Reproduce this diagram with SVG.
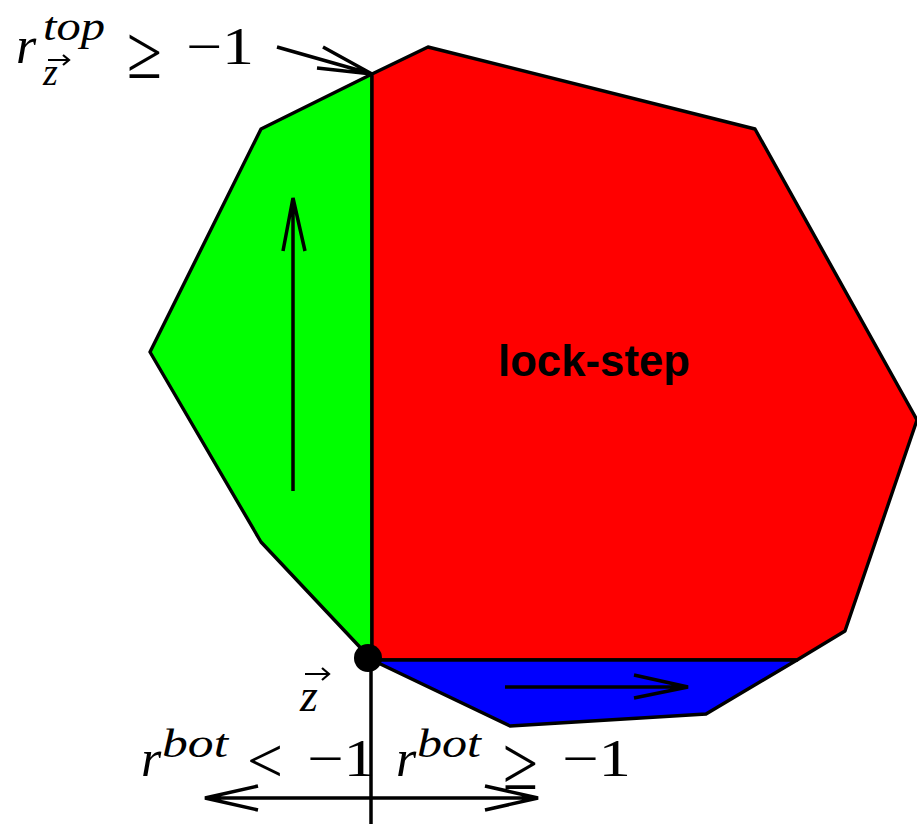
<svg xmlns="http://www.w3.org/2000/svg" width="917" height="824" viewBox="0 0 917 824">
<style>
.reg{stroke:#000;stroke-width:3.4;stroke-linejoin:round}
.ln{stroke:#000;stroke-width:3.5;fill:none;stroke-linecap:butt}
.m{font-family:"Liberation Serif",serif;font-style:italic;fill:#000}
.n{font-family:"Liberation Serif",serif;fill:#000;font-size:52px}
.rel{font-family:"Liberation Serif",serif;fill:#000;font-size:64px}
.ge{font-family:"Liberation Serif",serif;fill:#000;font-size:76px}
.lbl{font-family:"Liberation Sans",Arial,sans-serif;font-weight:bold;font-size:44px;fill:#000}
</style>
<rect width="917" height="824" fill="#fff"/>
<g id="green"><polygon class="reg" fill="#00ff00" points="372,74 261,129 150,352 261,542 372,660"/></g>
<g id="red"><polygon class="reg" fill="#ff0000" points="372,74 428,47 755,129 917,420 845,631 797,660 372,660"/></g>
<g id="blue"><polygon class="reg" fill="#0000ff" points="372,660 797,660 706,714 510,726"/></g>
<g id="dot"><circle cx="368" cy="658" r="14" fill="#000"/></g>
<g id="connectors">
<path class="ln" d="M293,491 V198 M283,251 L293,198 L305,251"/>
<path class="ln" d="M505,687 H688 M634,675 L688,687 L634,698"/>
<path class="ln" d="M205,798 H538 M258,786 L205,798 L258,810 M485,786 L538,798 L485,810"/>
<path class="ln" d="M371,658 V824"/>
<path class="ln" d="M277,47 L372,74 M323,47 L372,74 L317,68"/>
</g>
<g id="label-top">
<text class="m" x="16" y="63" font-size="52">r</text>
<text class="m" x="43" y="40" font-size="40" textLength="62" lengthAdjust="spacingAndGlyphs">top</text>
<text class="m" x="43" y="85" font-size="38">z</text>
<path d="M48,60 H68 M63,55 L69,60 L63,65" stroke="#000" stroke-width="2.2" fill="none"/>
<text class="ge" x="127" y="78" textLength="35" lengthAdjust="spacingAndGlyphs">≥</text>
<text class="n" x="186" y="64" textLength="68" lengthAdjust="spacingAndGlyphs">−1</text>
</g>
<g id="label-z">
<text class="m" x="300" y="711" font-size="46">z</text>
<path d="M305,674 H328 M322,668 L329,674 L322,680" stroke="#000" stroke-width="2.2" fill="none"/>
</g>
<g id="label-bot-left">
<text class="m" x="141" y="776" font-size="52">r</text>
<text class="m" x="162" y="757" font-size="40" textLength="66" lengthAdjust="spacingAndGlyphs">bot</text>
<text class="rel" x="247" y="782" textLength="36" lengthAdjust="spacingAndGlyphs">&lt;</text>
<text class="n" x="307" y="776" textLength="69" lengthAdjust="spacingAndGlyphs">−1</text>
</g>
<g id="label-bot-right">
<text class="m" x="396" y="776" font-size="52">r</text>
<text class="m" x="417" y="757" font-size="40" textLength="64" lengthAdjust="spacingAndGlyphs">bot</text>
<text class="ge" x="503" y="789" textLength="35" lengthAdjust="spacingAndGlyphs">≥</text>
<text class="n" x="562" y="776" textLength="69" lengthAdjust="spacingAndGlyphs">−1</text>
</g>
<g id="label-lockstep"><text class="lbl" x="594" y="376" text-anchor="middle" textLength="192" lengthAdjust="spacingAndGlyphs">lock-step</text></g>
</svg>
